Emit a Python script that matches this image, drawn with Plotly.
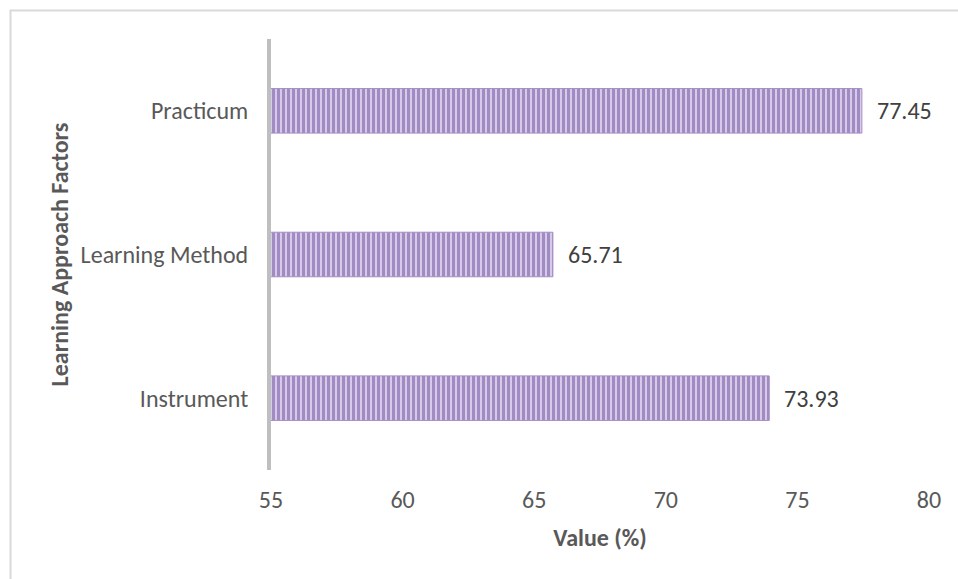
import plotly.graph_objects as go

categories = ["Instrument", "Learning Method", "Practicum"]
values = [73.93, 65.71, 77.45]
x_ticks = [55, 60, 65, 70, 75, 80]

FONT = "Carlito, Calibri, Lato, sans-serif"
TXT = "#595959"

fig = go.Figure()
fig.add_trace(go.Bar(
    y=categories,
    x=values,
    orientation="h",
    width=0.31,
    marker=dict(
        color="#d6c9e8",
        line=dict(color="#a48dc4", width=1),
        pattern=dict(shape="|", fgcolor="#6a4a9c", bgcolor="#d9cdeb",
                     size=5, solidity=0.62, fillmode="overlay"),
    ),
    hoverinfo="skip",
))

for c, v in zip(categories, values):
    fig.add_annotation(x=v, y=c, text=f"{v:.2f}", showarrow=False,
                       xanchor="left", yanchor="middle", xshift=13,
                       font=dict(family=FONT, size=24, color="#404040"))

fig.update_xaxes(
    range=[55, 80], tickvals=x_ticks, ticktext=[str(t) for t in x_ticks],
    showgrid=False, zeroline=False, showline=False, ticks="",
    ticklabelstandoff=13,
    tickfont=dict(family=FONT, size=24, color=TXT),
    title=dict(text="<b>Value (%)</b>", font=dict(family=FONT, size=24, color=TXT), standoff=16),
    automargin=False,
)
fig.update_yaxes(
    categoryorder="array", categoryarray=categories,
    showgrid=False, zeroline=False, showline=True, linecolor="#bfbfbf", linewidth=4,
    ticks="", ticklabelstandoff=14,
    tickfont=dict(family=FONT, size=24, color=TXT),
    title=dict(text="<b>Learning Approach Factors</b>", font=dict(family=FONT, size=24, color=TXT), standoff=6),
    automargin=False,
)

W, H = 958, 579
L, R, T, B = 271, 29, 39, 109
pw, ph = W - L - R, H - T - B
def px(x): return (x - L) / pw
def py(y): return (H - B - y) / ph

fig.add_shape(type="path", xref="paper", yref="paper",
              path=f"M {px(10.5)} {py(600)} L {px(10.5)} {py(10.5)} L {px(980)} {py(10.5)}",
              line=dict(color="#d9d9d9", width=2))

fig.update_layout(
    width=W, height=H,
    margin=dict(l=L, r=R, t=T, b=B),
    paper_bgcolor="white", plot_bgcolor="white",
    showlegend=False,
    font=dict(family=FONT, color=TXT),
)

fig.write_html("out.html")
